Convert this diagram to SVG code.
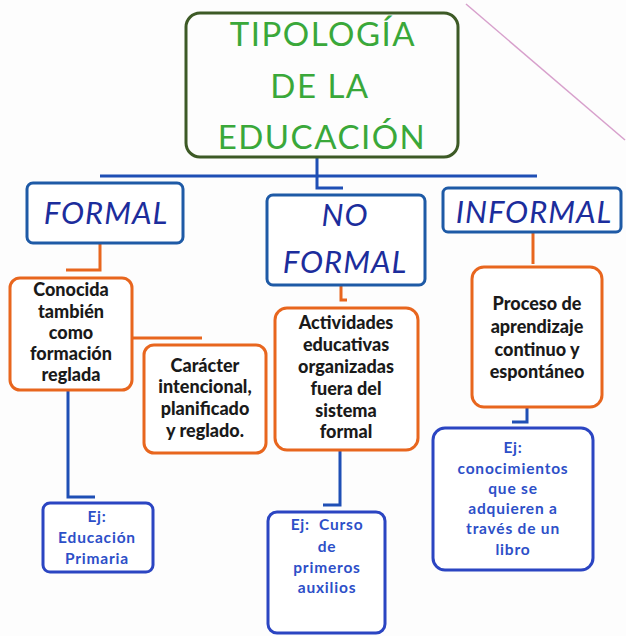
<svg xmlns="http://www.w3.org/2000/svg" width="626" height="636" viewBox="0 0 626 636">
<defs>
<style>
.bg{fill:#fdfdfd}
.title{fill:none;stroke:#3d5a26;stroke-width:3}
.cat{fill:#fff;stroke:#1e5aa6;stroke-width:3}
.org{fill:#fff;stroke:#e8661e;stroke-width:3}
.ej{fill:#fff;stroke:#2b45c2;stroke-width:3}
.lb{fill:none;stroke:#1f4fb5;stroke-width:3}
.lo{fill:none;stroke:#e8661e;stroke-width:3}
.tt{font-family:Lato,"Open Sans",sans-serif;font-size:33px;fill:#3aa83a;text-anchor:middle;letter-spacing:1.5px}
.tc{font-family:Lato,"Open Sans",sans-serif;font-size:31px;font-style:italic;fill:#1c2d9c;text-anchor:middle;letter-spacing:1px}
.tb{font-family:Lato,"Open Sans",sans-serif;font-size:18px;font-weight:900;fill:#1a1a1a;text-anchor:middle}
.te{font-family:Lato,"Open Sans",sans-serif;font-size:15.5px;font-weight:bold;fill:#2d4fc8;text-anchor:middle;letter-spacing:0.8px}
</style>
</defs>
<rect class="bg" x="0" y="0" width="626" height="636"/>
<line x1="466" y1="4" x2="625" y2="140" stroke="#c87ab8" stroke-width="1.5" opacity="0.7"/>
<g id="connectors">
<path class="lb" d="M317 157 V188 H343"/>
<path class="lb" d="M100 176 H537"/>
<path class="lo" d="M100 243 V270 H66"/>
<path class="lo" d="M132 338 H202"/>
<path class="lb" d="M68 390 V497 H95"/>
<path class="lo" d="M341 285 V300 H347"/>
<path class="lb" d="M340 450 V505 H323"/>
<path class="lo" d="M533 232 V264"/>
<path class="lb" d="M527 407 V422 H512"/>
</g>
<g id="title">
<rect class="title" x="186" y="13" width="272" height="144" rx="14"/>
<text class="tt" x="323" y="46">TIPOLOGÍA</text>
<text class="tt" x="320" y="98">DE LA</text>
<text class="tt" x="322" y="149">EDUCACIÓN</text>
</g>
<g id="formal">
<rect class="cat" x="27" y="183" width="156" height="60" rx="6"/>
<text class="tc" x="106" y="224">FORMAL</text>
</g>
<g id="noformal">
<rect class="cat" x="267" y="195" width="158" height="90" rx="6"/>
<text class="tc" x="345" y="226">NO</text>
<text class="tc" x="345" y="273">FORMAL</text>
</g>
<g id="informal">
<rect class="cat" x="443" y="188" width="178" height="44" rx="5"/>
<text class="tc" x="534" y="223">INFORMAL</text>
</g>
<g id="conocida">
<rect class="org" x="10" y="278" width="122" height="112" rx="10"/>
<text class="tb" x="71" y="296">Conocida</text>
<text class="tb" x="71" y="318">también</text>
<text class="tb" x="71" y="339">como</text>
<text class="tb" x="71" y="360">formación</text>
<text class="tb" x="71" y="381">reglada</text>
</g>
<g id="caracter">
<rect class="org" x="144" y="345" width="122" height="108" rx="10"/>
<text class="tb" x="205" y="372">Carácter</text>
<text class="tb" x="205" y="393">intencional,</text>
<text class="tb" x="205" y="415">planificado</text>
<text class="tb" x="205" y="437">y reglado.</text>
</g>
<g id="ej-primaria">
<rect class="ej" x="43" y="503" width="110" height="69" rx="7"/>
<text class="te" x="97" y="522">Ej:</text>
<text class="te" x="97" y="543">Educación</text>
<text class="te" x="97" y="564">Primaria</text>
</g>
<g id="actividades">
<rect class="org" x="275" y="308" width="143" height="142" rx="12"/>
<text class="tb" x="346" y="329">Actividades</text>
<text class="tb" x="346" y="351">educativas</text>
<text class="tb" x="346" y="373">organizadas</text>
<text class="tb" x="346" y="395">fuera del</text>
<text class="tb" x="346" y="417">sistema</text>
<text class="tb" x="346" y="438">formal</text>
</g>
<g id="ej-curso">
<rect class="ej" x="268" y="512" width="117" height="121" rx="9"/>
<text class="te" x="327" y="530" xml:space="preserve">Ej:  Curso</text>
<text class="te" x="327" y="552">de</text>
<text class="te" x="327" y="573">primeros</text>
<text class="te" x="327" y="593">auxilios</text>
</g>
<g id="proceso">
<rect class="org" x="472" y="267" width="130" height="140" rx="12"/>
<text class="tb" x="537" y="310">Proceso de</text>
<text class="tb" x="537" y="333">aprendizaje</text>
<text class="tb" x="537" y="356">continuo y</text>
<text class="tb" x="537" y="378">espontáneo</text>
</g>
<g id="ej-libro">
<rect class="ej" x="433" y="428" width="160" height="142" rx="12"/>
<text class="te" x="513" y="453">Ej:</text>
<text class="te" x="513" y="474">conocimientos</text>
<text class="te" x="513" y="494">que se</text>
<text class="te" x="513" y="514">adquieren a</text>
<text class="te" x="513" y="534">través de un</text>
<text class="te" x="513" y="555">libro</text>
</g>
</svg>
